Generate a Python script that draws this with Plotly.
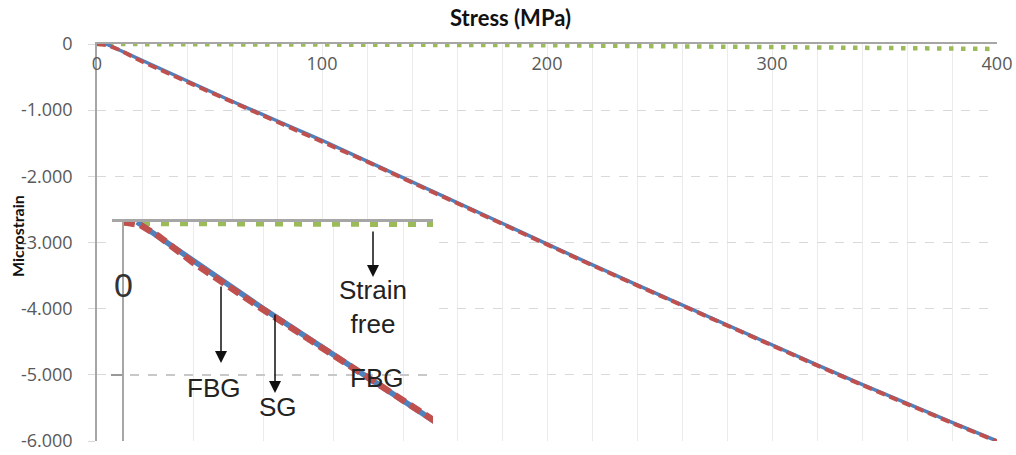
import plotly.graph_objects as go

# ---------------- data ----------------
stress_sg = [4, 20, 40, 60, 80, 100, 120, 140, 160, 180, 200, 220, 240, 260, 280, 300, 320, 340, 360, 380, 400]
strain_sg = [0, -250, -565, -865, -1160, -1455, -1770, -2085, -2400, -2715, -3025, -3335, -3640, -3945, -4245, -4550, -4850, -5145, -5435, -5720, -6000]

stress_fbg = [0, 5, 10, 20, 40, 60, 80, 100, 120, 140, 160, 180, 200, 220, 240, 260, 280, 300, 320, 340, 360, 380, 400]
strain_fbg = [0, -20, -90, -265, -572, -872, -1168, -1462, -1778, -2093, -2408, -2723, -3033, -3343, -3648, -3953, -4253, -4558, -4858, -5153, -5443, -5728, -6005]

stress_free = [0, 20, 40, 60, 80, 100, 120, 140, 160, 180, 200, 220, 240, 260, 280, 300, 320, 340, 360, 380, 400]
strain_free = [0, 0, -2, -4, -5, -7, -9, -11, -13, -16, -19, -23, -27, -32, -37, -42, -48, -54, -60, -67, -75]

x_tickvals = [0, 100, 200, 300, 400]
x_ticktext = ["0", "100", "200", "300", "400"]
y_tickvals = [0, -1000, -2000, -3000, -4000, -5000, -6000]
y_ticktext = ["0", "-1.000", "-2.000", "-3.000", "-4.000", "-5.000", "-6.000"]

# ---------------- layout helpers (pixel -> paper) ----------------
W, H = 1016, 455
L, R, T, B = 97, 19, 44, 14
PW, PH = W - L - R, H - T - B


def px(xp):
    return (xp - L) / PW


def py(yp):
    return (H - B - yp) / PH


GREEN = "#9bbb59"
BLUE = "#4f81bd"
RED = "#c0504d"
AXIS = "#a6a6a6"
GRID_V = "#ebebeb"
GRID_H = "#d9d9d9"
TXT = "#595959"

fig = go.Figure()

# main chart
fig.add_trace(go.Scatter(x=stress_free, y=strain_free, mode="lines", name="Strain free",
                         line=dict(color=GREEN, width=4.5, dash="4.5px,7.5px"), xaxis="x", yaxis="y"))
fig.add_trace(go.Scatter(x=stress_sg, y=strain_sg, mode="lines", name="SG",
                         line=dict(color=BLUE, width=3.5), xaxis="x", yaxis="y"))
fig.add_trace(go.Scatter(x=stress_fbg, y=strain_fbg, mode="lines", name="FBG",
                         line=dict(color=RED, width=4, dash="9px,5px"), xaxis="x", yaxis="y"))

# inset (zoom of the beginning)
fig.add_trace(go.Scatter(x=stress_free, y=strain_free, mode="lines", name="Strain free",
                         line=dict(color=GREEN, width=8, dash="8px,11px"), xaxis="x2", yaxis="y2"))
fig.add_trace(go.Scatter(x=stress_sg, y=strain_sg, mode="lines", name="SG",
                         line=dict(color=BLUE, width=5.5), xaxis="x2", yaxis="y2"))
fig.add_trace(go.Scatter(x=stress_fbg, y=strain_fbg, mode="lines", name="FBG",
                         line=dict(color=RED, width=6.5, dash="12px,6px"), xaxis="x2", yaxis="y2"))

sx = 3.5          # inset px per MPa
sy = 153 / 1000   # inset px per microstrain
ix0, ix1 = 112, 433
iy0, iy1 = 222, H - B
x2_range = [-(123 - ix0) / sx, (ix1 - 123) / sx]
y2_range = [-(iy1 - iy0) / sy, 0]

fig.update_layout(
    width=W, height=H,
    margin=dict(l=L, r=R, t=T, b=B, autoexpand=False),
    paper_bgcolor="white", plot_bgcolor="white",
    showlegend=False,
    font=dict(family="Open Sans", color=TXT, size=17),
    xaxis=dict(
        domain=[0, 1], range=[0, 400], side="top", anchor="y", automargin=False,
        tickvals=x_tickvals, ticktext=x_ticktext,
        ticklabelposition="inside", ticklabeloverflow="allow", ticklabelstandoff=14,
        showline=True, linecolor=AXIS, linewidth=2,
        showgrid=True, gridcolor=GRID_V, gridwidth=1,
        minor=dict(dtick=20, showgrid=True, gridcolor=GRID_V, gridwidth=1),
        zeroline=False, ticks="",
        tickfont=dict(size=18, color=TXT),
    ),
    yaxis=dict(
        domain=[0, 1], range=[-6000, 0], anchor="x", automargin=False,
        tickvals=y_tickvals, ticktext=y_ticktext,
        showline=True, linecolor=AXIS, linewidth=1.5,
        showgrid=True, gridcolor=GRID_H, griddash="dash", gridwidth=1,
        zeroline=False, ticks="outside", ticklen=7, tickcolor=GRID_H,
        ticklabelstandoff=12,
        tickfont=dict(size=18, color=TXT),
    ),
    xaxis2=dict(
        domain=[px(ix0), px(ix1)], range=x2_range, anchor="y2", side="top", automargin=False,
        showline=True, linecolor=AXIS, linewidth=2.5, mirror=False,
        showticklabels=False, ticks="",
        tickvals=[20, 40, 60, 80], showgrid=True, gridcolor=GRID_V, gridwidth=1,
        zeroline=False,
    ),
    yaxis2=dict(
        domain=[0, py(iy0)], range=y2_range, anchor="free", position=px(123), automargin=False,
        showline=True, linecolor=AXIS, linewidth=2,
        showticklabels=False, ticks="outside", ticklen=11, tickwidth=2, tickcolor="#999999",
        tickvals=[-1000], showgrid=True, gridcolor="#c8c8c8", griddash="dash", gridwidth=1.5,
        zeroline=False,
    ),
)

ann = []
ann.append(dict(xref="paper", yref="paper", x=(510 - L) / PW, y=py(17), text="<b>Stress (MPa)</b>",
                showarrow=False, font=dict(family="Lato", size=22, color="#111111"),
                xanchor="center", yanchor="middle"))
ann.append(dict(xref="paper", yref="paper", x=px(17), y=py(236), text="<b>Microstrain</b>",
                showarrow=False, textangle=-90, font=dict(family="Lato", size=16, color="#111111"),
                xanchor="center", yanchor="middle"))

lab_font = dict(family="Liberation Sans", size=26, color="#222222")
for text, xp, yp in [("FBG", 213, 388), ("SG", 278, 407), ("Strain<br>free", 373, 307), ("FBG", 376, 378)]:
    ann.append(dict(xref="paper", yref="paper", x=px(xp), y=py(yp), text=text, showarrow=False,
                    font=lab_font, xanchor="center", yanchor="middle"))
ann.append(dict(xref="paper", yref="paper", x=px(123), y=py(285), text="0", showarrow=False,
                font=dict(family="Liberation Sans", size=34, color="#333333"),
                xanchor="center", yanchor="middle"))

for xp, y_tail, y_head in [(221, 285, 363), (275, 313, 393), (373, 230, 277)]:
    ann.append(dict(xref="paper", yref="paper", x=px(xp), y=py(y_head), ax=0, ay=-(y_head - y_tail),
                    text="", showarrow=True, arrowhead=2, arrowsize=1.6, arrowwidth=1.5,
                    arrowcolor="#111111"))

fig.update_layout(annotations=ann)

fig.write_html(
    "out.html",
    config={"displayModeBar": False},
    post_script="document.body.style.margin='0';document.body.style.overflow='hidden';",
)
